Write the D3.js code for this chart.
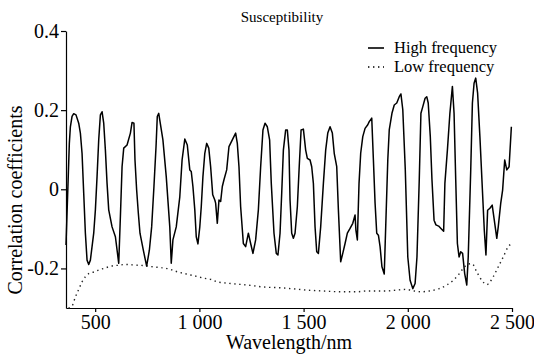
<!DOCTYPE html>
<html>
<head>
<meta charset="utf-8">
<script src="https://cdn.jsdelivr.net/npm/d3@7"></script>
<style>
  body { margin: 0; background: #fff; }
</style>
</head>
<body>
<div id="chart"></div>
<script>
// high frequency component (wavelength nm, correlation)
const hfWavelength = [360,376,381,389,397,408,421,429,437,445,453,461,469,477,485,493,501,509,517,525,533,541,549,557,565,581,597,613,621,629,637,653,669,677,686,691,699,707,715,731,747,760,771,782,792,798,805,810,825,841,858,865,873,889,906,917,930,942,954,961,969,978,985,993,1002,1009,1017,1026,1035,1045,1054,1064,1074,1078,1086,1094,1102,1110,1118,1131,1142,1158,1174,1182,1190,1198,1211,1222,1235,1246,1257,1270,1283,1294,1305,1315,1326,1337,1345,1358,1369,1377,1387,1395,1403,1414,1422,1430,1435,1443,1451,1459,1470,1479,1488,1499,1510,1518,1531,1539,1547,1555,1563,1571,1582,1595,1606,1616,1627,1638,1647,1659,1667,1678,1688,1699,1710,1723,1736,1747,1751,1758,1766,1774,1784,1795,1808,1815,1827,1835,1843,1851,1859,1867,1876,1887,1895,1904,1911,1924,1935,1947,1959,1967,1976,1988,2000,2011,2024,2035,2044,2055,2063,2072,2083,2091,2098,2108,2116,2126,2135,2148,2159,2172,2178,2190,2202,2214,2222,2230,2238,2246,2254,2263,2273,2283,2290,2302,2310,2318,2326,2335,2346,2358,2367,2375,2383,2394,2405,2415,2427,2434,2446,2455,2465,2475,2486,2497];
const hfValue = [-0.141,0.116,0.158,0.184,0.191,0.188,0.167,0.142,0.091,-0.010,-0.111,-0.179,-0.190,-0.179,-0.145,-0.111,-0.052,0.032,0.125,0.188,0.196,0.167,0.099,0.015,-0.052,-0.095,-0.120,-0.187,-0.069,0.057,0.104,0.112,0.142,0.169,0.167,0.074,-0.002,-0.060,-0.111,-0.154,-0.194,-0.154,-0.095,0.007,0.108,0.184,0.192,0.175,0.125,0.032,-0.095,-0.187,-0.128,-0.095,-0.019,0.074,0.127,0.112,0.049,0.045,0.007,-0.052,-0.120,-0.138,-0.095,-0.044,0.032,0.091,0.116,0.104,0.057,-0.014,-0.027,-0.035,-0.086,-0.027,-0.031,0.007,0.024,0.049,0.108,0.125,0.142,0.116,0.057,-0.044,-0.137,-0.145,-0.111,-0.137,-0.162,-0.128,-0.052,0.057,0.150,0.167,0.158,0.125,0.015,-0.111,-0.162,-0.166,-0.111,-0.010,0.099,0.150,0.150,0.099,-0.027,-0.111,-0.124,-0.111,-0.044,0.057,0.150,0.152,0.099,0.078,0.074,0.057,0.015,-0.095,-0.158,-0.162,-0.095,0.015,0.099,0.142,0.158,0.142,0.091,0.057,-0.052,-0.183,-0.162,-0.137,-0.111,-0.099,-0.086,-0.065,-0.103,-0.128,0.015,0.091,0.133,0.154,0.163,0.171,0.180,0.074,-0.035,-0.111,-0.116,-0.145,-0.196,-0.214,-0.078,0.074,0.150,0.192,0.213,0.218,0.234,0.241,0.201,0.049,-0.171,-0.230,-0.251,-0.238,-0.171,0.024,0.192,0.209,0.230,0.234,0.218,0.133,0.024,-0.078,-0.090,-0.093,-0.099,-0.106,0.015,0.099,0.192,0.260,0.192,0.024,-0.137,-0.171,-0.158,-0.162,-0.213,-0.242,-0.171,0.049,0.218,0.268,0.281,0.243,0.133,-0.002,-0.103,-0.166,-0.053,-0.048,-0.040,-0.078,-0.124,-0.095,-0.035,-0.002,0.074,0.049,0.057,0.158];

// low frequency component
const lfWavelength = [372,389,405,421,437,453,469,493,517,541,565,589,613,645,677,709,738,777,817,858,897,937,978,1026,1057,1086,1150,1230,1310,1390,1438,1519,1595,1675,1755,1803,1847,1895,1943,1991,2031,2063,2103,2151,2187,2218,2242,2266,2290,2308,2331,2355,2379,2410,2434,2458,2482,2499];
const lfValue = [-0.300,-0.295,-0.272,-0.253,-0.234,-0.221,-0.213,-0.209,-0.204,-0.200,-0.196,-0.193,-0.192,-0.190,-0.191,-0.192,-0.193,-0.196,-0.198,-0.202,-0.209,-0.214,-0.219,-0.225,-0.228,-0.234,-0.238,-0.242,-0.247,-0.249,-0.251,-0.255,-0.257,-0.259,-0.259,-0.257,-0.257,-0.257,-0.255,-0.253,-0.257,-0.259,-0.257,-0.251,-0.242,-0.230,-0.217,-0.200,-0.189,-0.188,-0.209,-0.230,-0.241,-0.221,-0.196,-0.171,-0.145,-0.137];

const xTicks = [500, 1000, 1500, 2000, 2500];
const yTicks = [0.4, 0.2, 0, -0.2];
const seriesNames = ["High frequency", "Low frequency"];

const FONT = "'Times New Roman', 'Liberation Serif', 'DejaVu Serif', serif";
const W = 534, H = 358;
const svg = d3.select("#chart").append("svg").attr("width", W).attr("height", H)
    .attr("font-family", FONT);

const x = d3.scaleLinear().domain([360, 2500]).range([66, 512]);
const y = d3.scaleLinear().domain([-0.3, 0.4]).range([308, 31]);

const fmtX = d => d >= 1000 ? Math.floor(d / 1000) + " " + String(d % 1000).padStart(3, "0") : String(d);
const fmtY = d => d === 0 ? "0" : (d < 0 ? "-" : "") + Math.abs(d).toFixed(1);

// axes
const xAxis = svg.append("g")
    .attr("transform", `translate(0,${y(-0.3)})`)
    .call(d3.axisBottom(x).tickValues(xTicks).tickFormat(fmtX).tickSize(4).tickSizeOuter(0).tickPadding(3));
const yAxis = svg.append("g")
    .attr("transform", `translate(${x(360)},0)`)
    .call(d3.axisLeft(y).tickValues(yTicks).tickFormat(fmtY).tickSize(5).tickSizeOuter(0).tickPadding(2));

[xAxis, yAxis].forEach(g => {
    g.attr("font-family", FONT).attr("font-size", 20);
    g.select(".domain").attr("stroke", "#000").attr("stroke-width", 1.2);
    g.selectAll(".tick line").attr("stroke", "#000").attr("stroke-width", 1.2);
    g.selectAll("text").attr("fill", "#000");
});

// series
const hf = hfWavelength.map((w, i) => [w, hfValue[i]]);
const lf = lfWavelength.map((w, i) => [w, lfValue[i]]);
const line = d3.line().x(d => x(d[0])).y(d => y(d[1]));

svg.append("path").datum(lf)
    .attr("d", d3.line().curve(d3.curveMonotoneX).x(d => x(d[0])).y(d => y(d[1])))
    .attr("fill", "none").attr("stroke", "#222").attr("stroke-width", 1.4)
    .attr("stroke-dasharray", "1.4,3.6");

svg.append("path").datum(hf)
    .attr("d", line)
    .attr("fill", "none").attr("stroke", "#000").attr("stroke-width", 1.5)
    .attr("stroke-linejoin", "round");

// title and axis labels
svg.append("text").attr("x", 282).attr("y", 22).attr("text-anchor", "middle")
    .attr("font-size", 15).text("Susceptibility");
svg.append("text").attr("x", 289).attr("y", 349).attr("text-anchor", "middle")
    .attr("font-size", 20).text("Wavelength/nm");
svg.append("text").attr("transform", "translate(22,200) rotate(-90)").attr("text-anchor", "middle")
    .attr("font-size", 20).text("Correlation coefficients");

// legend
const legend = svg.append("g");
seriesNames.forEach((name, i) => {
    const ly = 48 + i * 19;
    legend.append("line").attr("x1", 368).attr("x2", 384).attr("y1", ly).attr("y2", ly)
        .attr("stroke", "#000").attr("stroke-width", i === 0 ? 1.6 : 1.4)
        .attr("stroke-dasharray", i === 0 ? null : "1.4,3.6");
    legend.append("text").attr("x", 394).attr("y", ly + 5).attr("font-size", 16.5).text(name);
});
</script>
</body>
</html>
